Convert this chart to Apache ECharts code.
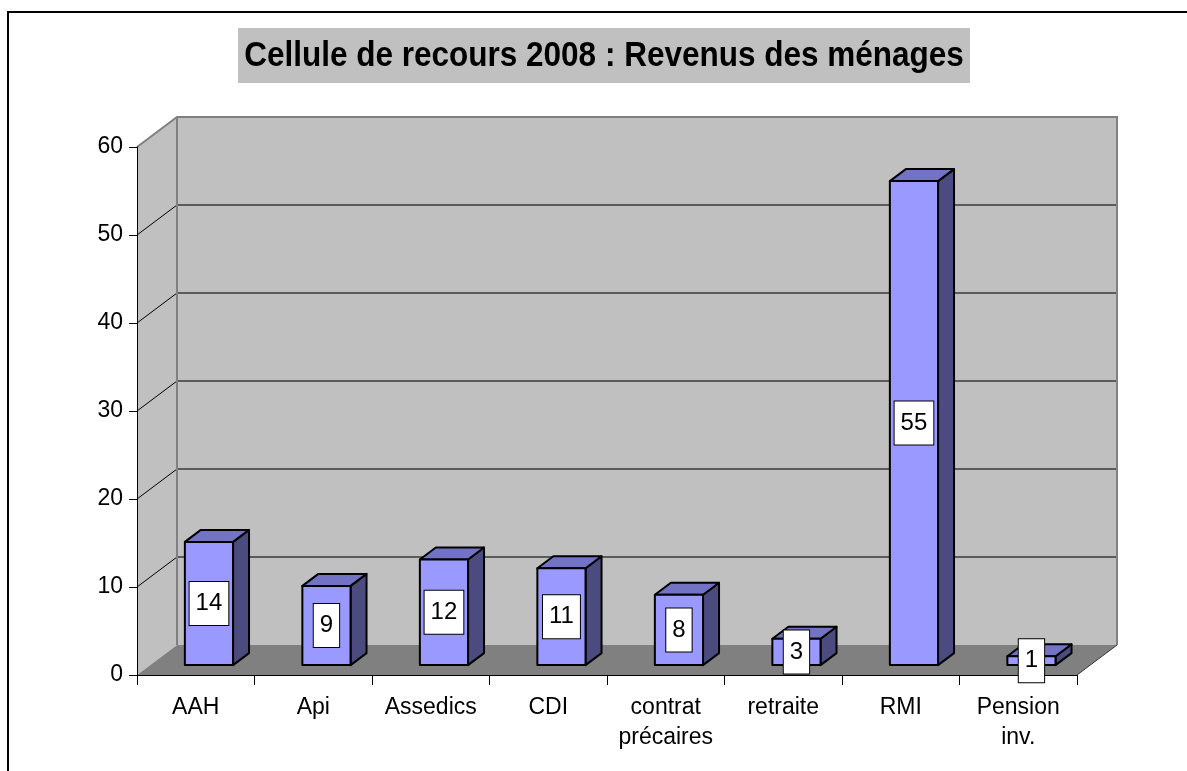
<!DOCTYPE html>
<html>
<head>
<meta charset="utf-8">
<script src="https://cdn.jsdelivr.net/npm/echarts@6/dist/echarts.min.js"></script>
<style>
  html, body { margin: 0; padding: 0; background: #fff; }
  #chart { width: 1187px; height: 771px; }
</style>
</head>
<body>
<div id="chart"></div>
<script>
// Chart data
var categories = ['AAH', 'Api', 'Assedics', 'CDI', 'contrat\nprécaires', 'retraite', 'RMI', 'Pension\ninv.'];
var values = [14, 9, 12, 11, 8, 3, 55, 1];
var yTicks = [0, 10, 20, 30, 40, 50, 60];
var titleText = 'Cellule de recours 2008 : Revenus des ménages';

// 3D look: depth offset of the back wall, and where the bars sit in that depth
var DX = 40, DY = -30;
var BAR_FRONT = 0.33, BAR_DEPTH = 0.4, BAR_WIDTH = 0.41;
var FONT = '"Liberation Sans", Arial, sans-serif';

var chart = echarts.init(document.getElementById('chart'));

// Walls and floor, built from the grid rect and y ticks
function renderWalls(params, api) {
    var cs = params.coordSys;
    var l = cs.x, r = cs.x + cs.width, t = cs.y, b = cs.y + cs.height;
    var children = [];
    children.push({ type: 'polygon', shape: { points: [[l, t], [l + DX, t + DY], [l + DX, b + DY], [l, b]] }, style: { fill: '#C0C0C0' } });
    children.push({ type: 'polygon', shape: { points: [[l, b], [l + DX, b + DY], [r + DX, b + DY], [r, b]] }, style: { fill: '#808080' } });
    children.push({ type: 'rect', shape: { x: l + DX, y: t + DY, width: cs.width, height: cs.height }, style: { fill: '#C0C0C0' } });
    yTicks.forEach(function (v) {
        if (v === yTicks[0] || v === yTicks[yTicks.length - 1]) return;
        var y = api.coord([0, v])[1];
        children.push({ type: 'line', shape: { x1: l + DX, y1: y + DY, x2: r + DX, y2: y + DY }, style: { stroke: '#3a3a3a', lineWidth: 1.5 } });
        children.push({ type: 'line', shape: { x1: l, y1: y, x2: l + DX, y2: y + DY }, style: { stroke: '#000', lineWidth: 1 } });
    });
    children.push({ type: 'polyline', shape: { points: [[l, t], [l + DX, t + DY], [r + DX, t + DY], [r + DX, b + DY]] }, style: { stroke: '#808080', lineWidth: 2, fill: null } });
    children.push({ type: 'line', shape: { x1: l + DX, y1: t + DY, x2: l + DX, y2: b + DY }, style: { stroke: '#808080', lineWidth: 2 } });
    children.push({ type: 'line', shape: { x1: r, y1: b, x2: r + DX, y2: b + DY }, style: { stroke: '#333', lineWidth: 1 } });
    return { type: 'group', children: children };
}

function barBox(api) {
    var i = api.value(0), v = api.value(1);
    var base = api.coord([i, 0]);
    var top = api.coord([i, v]);
    var bw = api.size([1, 0])[0] * BAR_WIDTH;
    var x0 = base[0] - bw / 2 + DX * BAR_FRONT;
    var yb = base[1] + DY * BAR_FRONT;
    var yt = top[1] + DY * BAR_FRONT;
    return { x0: x0, x1: x0 + bw, yt: yt, yb: yb, v: v };
}

function renderBar(params, api) {
    var p = barBox(api);
    var sx = DX * BAR_DEPTH, sy = DY * BAR_DEPTH;
    var line = { stroke: '#000', lineWidth: 2, lineJoin: 'round' };
    return {
        type: 'group',
        children: [
            { type: 'polygon', shape: { points: [[p.x1, p.yt], [p.x1 + sx, p.yt + sy], [p.x1 + sx, p.yb + sy], [p.x1, p.yb]] }, style: Object.assign({ fill: '#4B4B7F' }, line) },
            { type: 'polygon', shape: { points: [[p.x0, p.yt], [p.x0 + sx, p.yt + sy], [p.x1 + sx, p.yt + sy], [p.x1, p.yt]] }, style: Object.assign({ fill: '#7373C6' }, line) },
            { type: 'polygon', shape: { points: [[p.x0, p.yt], [p.x1, p.yt], [p.x1, p.yb], [p.x0, p.yb]] }, style: Object.assign({ fill: '#9999FF' }, line) }
        ]
    };
}

function renderLabel(params, api) {
    var p = barBox(api);
    return {
        type: 'text',
        style: {
            text: String(p.v),
            x: (p.x0 + p.x1) / 2,
            y: (p.yt + p.yb) / 2,
            align: 'center',
            verticalAlign: 'middle',
            font: '24px ' + FONT,
            fill: '#000',
            backgroundColor: '#fff',
            borderColor: '#000',
            borderWidth: 1,
            padding: [10, 6, 9, 6]
        }
    };
}

var barData = values.map(function (v, i) { return [i, v]; });

chart.setOption({
    animation: false,
    graphic: [{
        type: 'rect',
        shape: { x: 8, y: 12, width: 1200, height: 800 },
        style: { fill: null, stroke: '#000', lineWidth: 2 },
        silent: true
    }, {
        // title box, the text is a little condensed like the original
        type: 'rect',
        shape: { x: 238, y: 28, width: 732, height: 55 },
        style: { fill: '#C0C0C0' },
        silent: true
    }, {
        type: 'text',
        x: 604,
        y: 56,
        scaleX: 0.9,
        style: {
            text: titleText,
            font: 'bold 35px ' + FONT,
            fill: '#000',
            align: 'center',
            verticalAlign: 'middle'
        },
        silent: true
    }],
    grid: { left: 137, right: 110, top: 147, bottom: 96 },
    xAxis: {
        type: 'category',
        data: categories,
        z: 10,
        axisLine: { lineStyle: { color: '#000', width: 1 } },
        axisTick: { show: true, interval: 0, length: 10, lineStyle: { color: '#000' } },
        axisLabel: { interval: 0, hideOverlap: false, fontFamily: FONT, fontSize: 23, color: '#000', margin: 18, lineHeight: 30 }
    },
    yAxis: {
        type: 'value',
        min: 0,
        max: 60,
        interval: 10,
        z: 10,
        axisLine: { show: true, lineStyle: { color: '#000', width: 1 } },
        axisTick: { show: true, length: 8, lineStyle: { color: '#000' } },
        axisLabel: { fontFamily: FONT, fontSize: 23, color: '#000', margin: 14 },
        splitLine: { show: false }
    },
    series: [
        { type: 'custom', name: 'walls', z: 1, silent: true, data: [[0, 0]], renderItem: renderWalls, clip: false },
        { type: 'custom', name: 'Revenus', z: 3, data: barData, renderItem: renderBar, clip: false },
        { type: 'custom', name: 'labels', z: 20, silent: true, data: barData, renderItem: renderLabel, clip: false }
    ]
});
</script>
</body>
</html>
